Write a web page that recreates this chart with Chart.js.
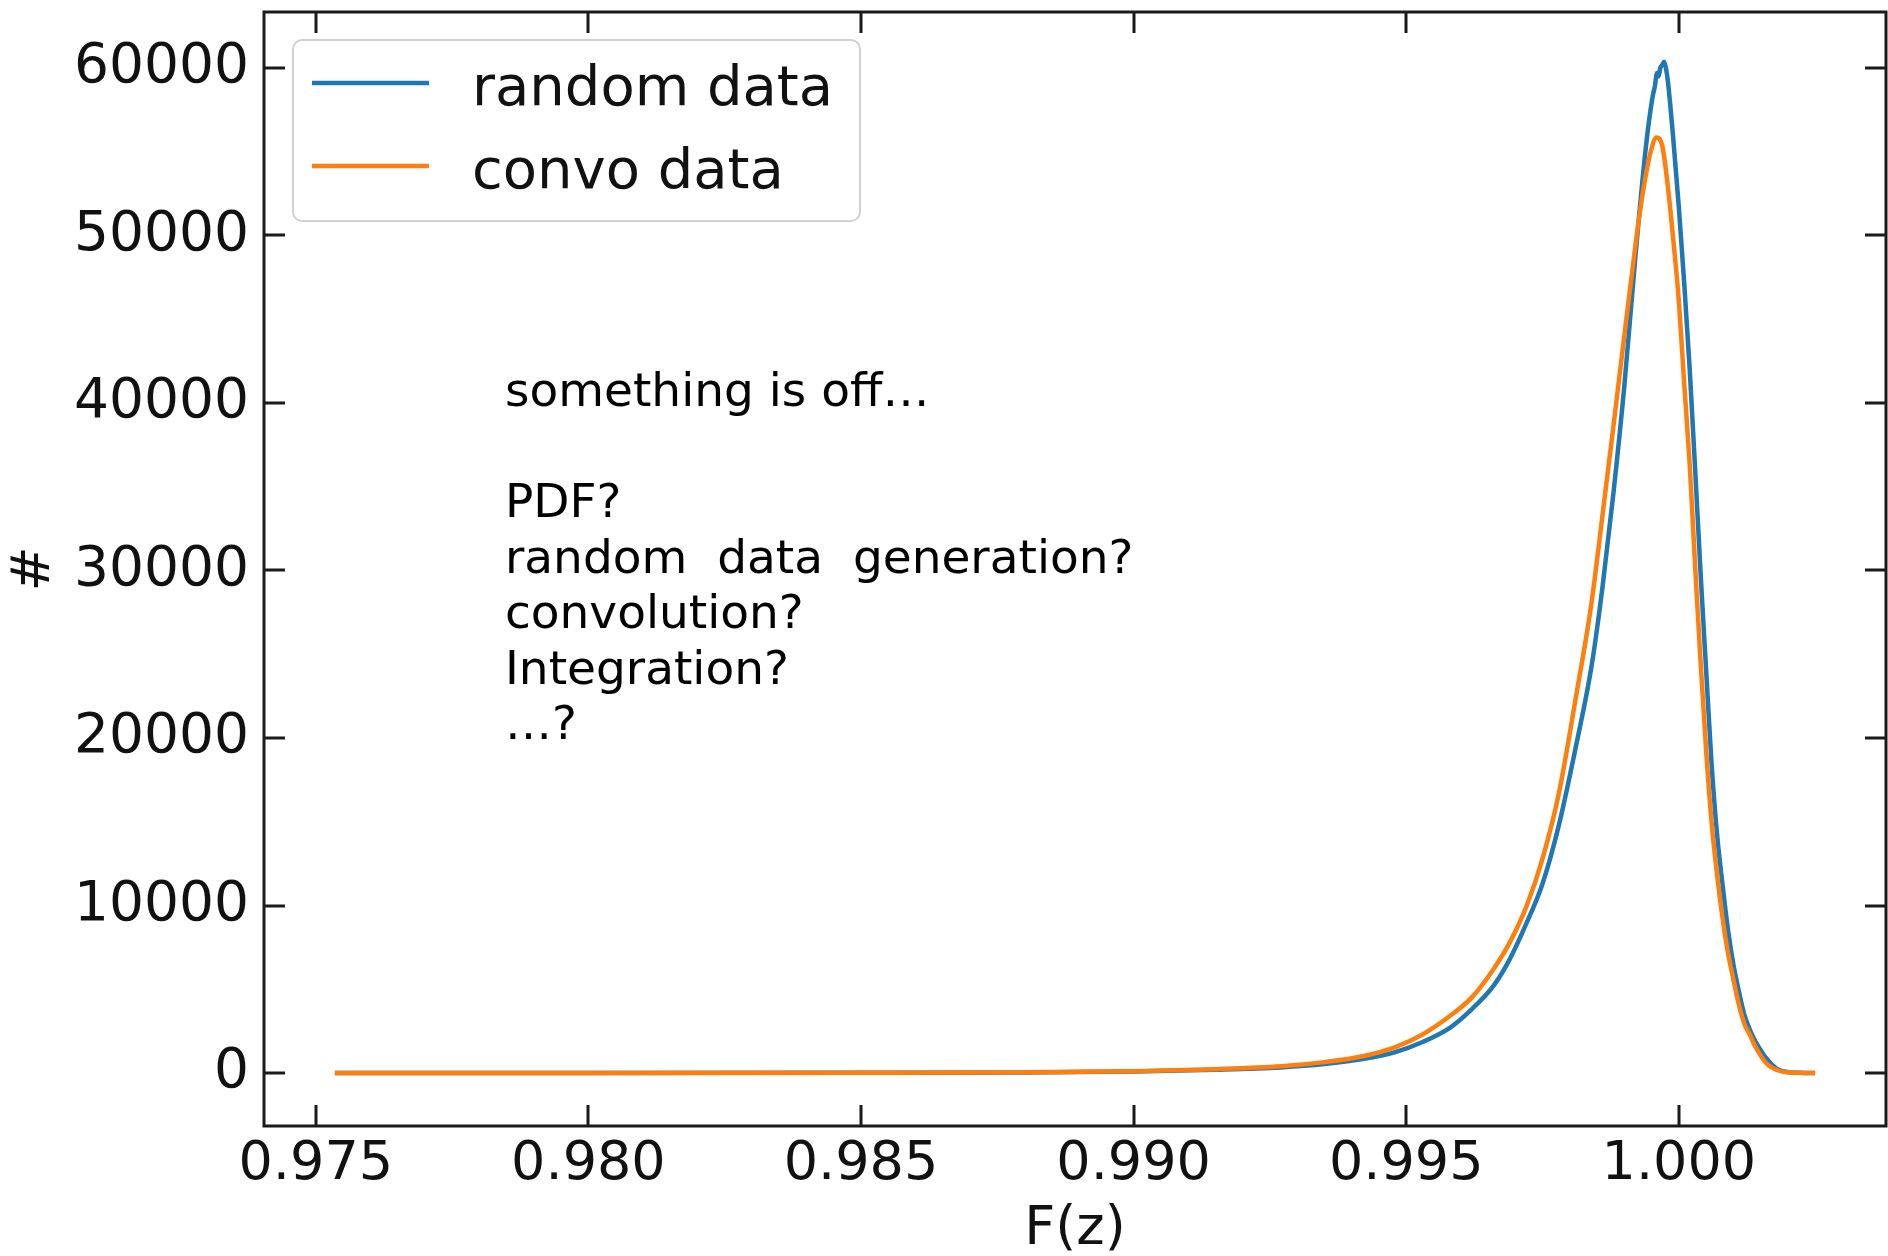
<!DOCTYPE html>
<html>
<head>
<meta charset="utf-8">
<title>F(z)</title>
<script src="https://cdn.jsdelivr.net/npm/chart.js@4"></script>
<style>
  html, body { margin: 0; padding: 0; background: #fff; }
  canvas { display: block; }
</style>
</head>
<body>
<canvas id="myChart" width="1888" height="1256"></canvas>
<script>
// 数据
var seriesNames = ['random data', 'convo data'];

var randomX = [0.97535, 0.980, 0.985, 0.988, 0.990, 0.9915, 0.9927, 0.9935, 0.9942, 0.9948,
    0.9953, 0.9958, 0.9962, 0.9966, 0.9969, 0.9972, 0.9975, 0.9978, 0.9981, 0.9984,
    0.9986, 0.9988, 0.9990, 0.9992, 0.9994, 0.99952, 0.99956, 0.99960, 0.99963, 0.99966,
    0.99970, 0.99973, 0.99976, 0.9998, 0.9999, 1.0000, 1.0001, 1.0002, 1.0003, 1.0004,
    1.0005, 1.0006, 1.0007, 1.0008, 1.0009, 1.0010, 1.0011, 1.0012, 1.0013, 1.0014,
    1.0015, 1.0016, 1.0018, 1.0020, 1.0022, 1.0025];
var randomY = [0, 0, 8, 30, 90, 190, 330, 530, 830, 1250,
    1850, 2700, 3800, 5200, 6800, 8900, 11300, 14800, 19300, 24300,
    29000, 34600, 41000, 48600, 55400, 58300, 58900, 59700, 59500, 60000,
    60200, 60380, 60050, 59200, 55700, 51700, 47100, 42000, 36000, 29800,
    24100, 18500, 14300, 11300, 8600, 6500, 4900, 3500, 2600, 1900,
    1370, 900, 250, 60, 15, 0];

var convoX = [0.97535, 0.980, 0.985, 0.988, 0.990, 0.9915, 0.9927, 0.9935, 0.9942, 0.9948,
    0.9953, 0.9958, 0.9962, 0.9966, 0.9969, 0.9972, 0.9975, 0.9978, 0.9981, 0.9984,
    0.9986, 0.9988, 0.9990, 0.9992, 0.9993, 0.9994, 0.9995, 0.99959, 0.9997, 0.9998,
    0.9999, 1.0000, 1.0001, 1.0002, 1.0003, 1.0004, 1.0005, 1.0006, 1.0007, 1.0008,
    1.0009, 1.0010, 1.0011, 1.0012, 1.0013, 1.0014, 1.0016, 1.0018, 1.0020, 1.0022,
    1.0025];
var convoY = [0, 0, 10, 40, 110, 230, 400, 650, 1000, 1550,
    2300, 3400, 4500, 6200, 7800, 9900, 12800, 16700, 22200, 28100,
    33300, 38600, 44000, 49300, 51700, 53700, 55200, 55850, 55300, 52900,
    49700, 46100, 41100, 36300, 30200, 24500, 19300, 15000, 11900, 9300,
    7200, 5600, 4100, 2950, 2300, 1600, 600, 180, 40, 10,
    0];

var xTicks = [0.975, 0.980, 0.985, 0.990, 0.995, 1.000];
var yTicks = [0, 10000, 20000, 30000, 40000, 50000, 60000];

var noteLines = ['something is off\u2026', '', 'PDF?', 'random  data  generation?',
    'convolution?', 'Integration?', '\u2026?'];

var colors = ['#1f77b4', '#ff7f0e'];
var FONT = 'DejaVu Sans';

function toPoints(xs, ys) {
    var pts = [];
    for (var i = 0; i < xs.length; i++) {
        pts.push({x: xs[i], y: ys[i]});
    }
    return pts;
}

// 边框和朝内的刻度
var framePlugin = {
    id: 'frame',
    afterDraw: function (chart) {
        var ctx = chart.ctx, a = chart.chartArea;
        var xs = chart.scales.x, ys = chart.scales.y;
        var len = 21;
        ctx.save();
        ctx.strokeStyle = '#1a1a1a';
        ctx.lineWidth = 3;
        ctx.beginPath();
        for (var i = 0; i < xTicks.length; i++) {
            var px = Math.round(xs.getPixelForValue(xTicks[i]));
            ctx.moveTo(px, a.bottom); ctx.lineTo(px, a.bottom - len);
            ctx.moveTo(px, a.top); ctx.lineTo(px, a.top + len);
        }
        for (var j = 0; j < yTicks.length; j++) {
            var py = Math.round(ys.getPixelForValue(yTicks[j]));
            ctx.moveTo(a.left, py); ctx.lineTo(a.left + len, py);
            ctx.moveTo(a.right, py); ctx.lineTo(a.right - len, py);
        }
        ctx.stroke();
        ctx.strokeRect(a.left, a.top, a.right - a.left, a.bottom - a.top);
        ctx.restore();
    }
};

// 图例 + 注释文字
var notePlugin = {
    id: 'notes',
    afterDatasetsDraw: function (chart) {
        var ctx = chart.ctx;
        var xs = chart.scales.x, ys = chart.scales.y;
        ctx.save();

        // legend box
        var bx = 293, by = 40, bw = 567, bh = 181, r = 9;
        ctx.beginPath();
        ctx.moveTo(bx + r, by);
        ctx.arcTo(bx + bw, by, bx + bw, by + bh, r);
        ctx.arcTo(bx + bw, by + bh, bx, by + bh, r);
        ctx.arcTo(bx, by + bh, bx, by, r);
        ctx.arcTo(bx, by, bx + bw, by, r);
        ctx.closePath();
        ctx.fillStyle = 'rgba(255,255,255,0.8)';
        ctx.fill();
        ctx.strokeStyle = '#d0d0d0';
        ctx.lineWidth = 2;
        ctx.stroke();

        var ds = chart.data.datasets;
        ctx.font = '56px "' + FONT + '"';
        ctx.textBaseline = 'alphabetic';
        ctx.textAlign = 'left';
        for (var i = 0; i < ds.length; i++) {
            var ly = 83 + i * 83;
            ctx.strokeStyle = ds[i].borderColor;
            ctx.lineWidth = 4.5;
            ctx.beginPath();
            ctx.moveTo(312, ly);
            ctx.lineTo(429, ly);
            ctx.stroke();
            ctx.fillStyle = '#111';
            ctx.fillText(ds[i].label, 472, ly + 22);
        }

        // annotation text, anchored in data coordinates
        var tx = xs.getPixelForValue(0.97847);
        var ty = ys.getPixelForValue(39820);
        ctx.font = '47px "' + FONT + '"';
        ctx.fillStyle = '#000';
        for (var k = 0; k < noteLines.length; k++) {
            ctx.fillText(noteLines[k], tx, ty + k * 55.5);
        }
        ctx.restore();
    }
};

var ctx = document.getElementById('myChart').getContext('2d');
var myChart = new Chart(ctx, {
    type: 'line',
    data: {
        datasets: [
            {
                label: seriesNames[0],
                data: toPoints(randomX, randomY),
                borderColor: colors[0],
                backgroundColor: colors[0],
                borderWidth: 4.5,
                pointRadius: 0,
                cubicInterpolationMode: 'monotone',
                order: 1
            },
            {
                label: seriesNames[1],
                data: toPoints(convoX, convoY),
                borderColor: colors[1],
                backgroundColor: colors[1],
                borderWidth: 4.5,
                pointRadius: 0,
                cubicInterpolationMode: 'monotone',
                order: 0
            }
        ]
    },
    options: {
        responsive: false,
        animation: false,
        layout: {padding: {top: 12, right: 2, left: 0, bottom: 0}},
        plugins: {
            legend: {display: false},
            tooltip: {enabled: false}
        },
        scales: {
            x: {
                type: 'linear',
                min: 0.97405,
                max: 1.0038,
                grid: {display: false, drawTicks: false},
                border: {display: false},
                afterBuildTicks: function (scale) {
                    scale.ticks = xTicks.map(function (v) { return {value: v}; });
                },
                afterFit: function (scale) {
                    scale.height = 130;
                    scale.paddingLeft = 0;
                    scale.paddingRight = 0;
                },
                ticks: {
                    autoSkip: false,
                    maxRotation: 0,
                    padding: 7,
                    color: '#111',
                    font: {family: FONT, size: 54},
                    callback: function (v) { return Number(v).toFixed(3); }
                },
                title: {
                    display: true,
                    text: 'F(z)',
                    color: '#111',
                    padding: 0,
                    font: {family: FONT, size: 54, lineHeight: 0.95}
                }
            },
            y: {
                min: -3164,
                max: 63343,
                grid: {display: false, drawTicks: false},
                border: {display: false},
                afterBuildTicks: function (scale) {
                    scale.ticks = yTicks.map(function (v) { return {value: v}; });
                },
                afterFit: function (scale) {
                    scale.width = 264;
                    scale.paddingTop = 0;
                    scale.paddingBottom = 0;
                },
                ticks: {
                    padding: 15,
                    color: '#111',
                    font: {family: FONT, size: 55},
                    callback: function (v) { return String(v); }
                },
                title: {
                    display: true,
                    text: '#',
                    color: '#111',
                    padding: {top: 5, bottom: 0},
                    font: {family: FONT, size: 54, lineHeight: 1.1}
                }
            }
        }
    },
    plugins: [framePlugin, notePlugin]
});
</script>
</body>
</html>
